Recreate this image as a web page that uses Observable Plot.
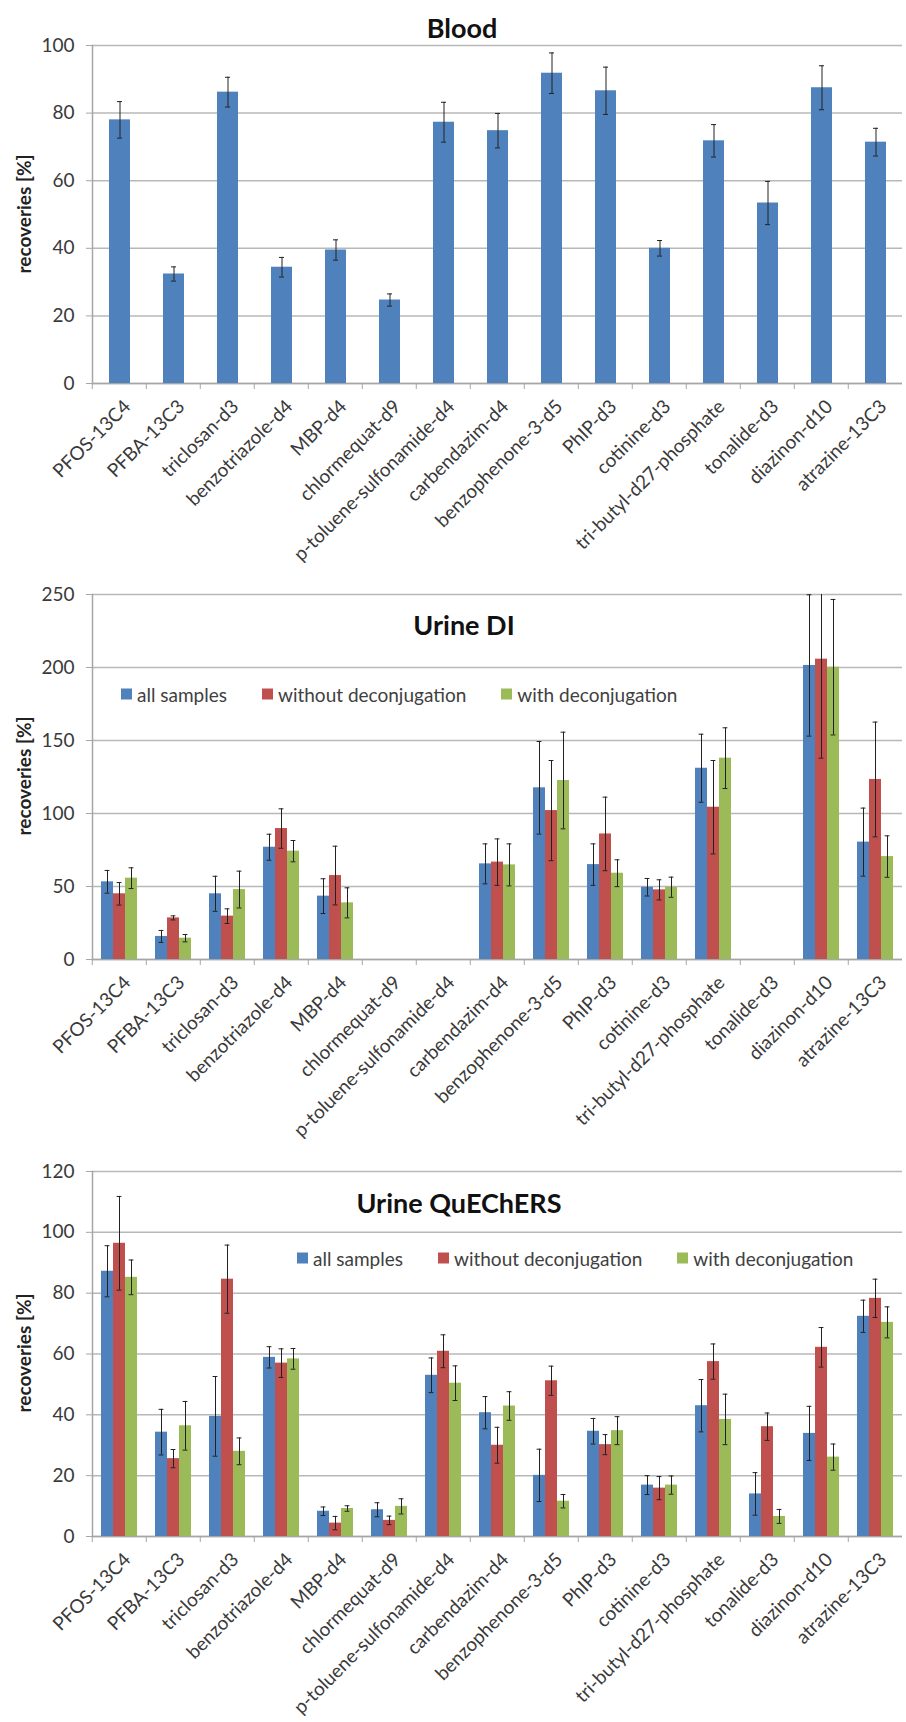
<!DOCTYPE html>
<html><head><meta charset="utf-8">
<script src="https://cdn.jsdelivr.net/npm/d3@7"></script>
<script src="https://cdn.jsdelivr.net/npm/@observablehq/plot@0.6"></script>
<style>
body{margin:0;background:#fff;font-family:Lato,sans-serif;}
.panel{position:relative;width:906px;}
.panel svg{display:block;}
.title{position:absolute;font-weight:bold;font-size:27px;color:#111;transform:translate(-50%,-50%);white-space:nowrap;}
.ylabel{position:absolute;font-weight:bold;font-size:19px;color:#222;transform:translate(-50%,-50%) rotate(-90deg);white-space:nowrap;}
.legend{position:absolute;display:flex;gap:35px;font-size:19px;color:#404040;transform:translateY(-50%);white-space:nowrap;}
.legend .sw{display:inline-block;width:11px;height:11px;margin-right:5px;}
</style></head><body>
<div id="charts"></div>
<script>
const compounds = ["PFOS-13C4","PFBA-13C3","triclosan-d3","benzotriazole-d4","MBP-d4","chlormequat-d9","p-toluene-sulfonamide-d4","carbendazim-d4","benzophenone-3-d5","PhIP-d3","cotinine-d3","tri-butyl-d27-phosphate","tonalide-d3","diazinon-d10","atrazine-13C3"];
const seriesNames = ["all samples","without deconjugation","with deconjugation"];
const seriesColors = ["#4F81BD","#C0504D","#9BBB59"];

const bloodMean = [78.0, 32.4, 86.2, 34.4, 39.5, 24.7, 77.3, 74.8, 91.8, 86.6, 40.0, 71.8, 53.4, 87.5, 71.4];
const bloodErr  = [5.4, 2.1, 4.4, 2.9, 3.0, 1.8, 5.9, 5.1, 6.0, 7.0, 2.3, 4.8, 6.4, 6.5, 4.1];

const diAll        = [53.2, 15.8, 45.0, 76.9, 43.4, null, null, 65.5, 117.6, 65.0, 49.5, 131.0, null, 201.4, 80.4];
const diAllErr     = [7.8, 4.1, 12.0, 8.9, 11.9, null, null, 13.7, 31.7, 14.2, 6.0, 23.3, null, 48.4, 23.3];
const diWithout    = [45.0, 28.5, 29.7, 89.7, 57.5, null, null, 66.7, 102.0, 86.0, 47.7, 104.3, null, 205.7, 123.3];
const diWithoutErr = [7.7, 1.4, 5.0, 13.5, 20.1, null, null, 15.9, 34.3, 25.2, 6.9, 32.0, null, 67.8, 39.3];
const diWith       = [55.7, 14.6, 47.9, 74.2, 38.8, null, null, 64.8, 122.6, 59.1, 49.5, 137.9, null, 200.2, 70.5];
const diWithErr    = [7.1, 2.5, 12.6, 7.3, 10.3, null, null, 14.4, 33.1, 9.2, 6.9, 20.8, null, 46.4, 14.2];

const qAll        = [87.2, 34.3, 39.5, 58.9, 8.3, 8.8, 53.0, 40.7, 20.1, 34.6, 16.9, 43.0, 14.0, 33.9, 72.4];
const qAllErr     = [8.4, 7.5, 13.1, 3.5, 1.4, 2.3, 5.7, 5.3, 8.6, 4.2, 3.1, 8.6, 7.0, 8.9, 5.3];
const qWithout    = [96.4, 25.6, 84.6, 57.0, 4.4, 5.3, 60.9, 30.0, 51.2, 30.2, 15.9, 57.5, 36.1, 62.2, 78.3];
const qWithoutErr = [15.4, 3.0, 11.2, 4.7, 2.2, 1.4, 5.4, 5.9, 4.8, 3.3, 3.8, 5.8, 4.5, 6.5, 6.3];
const qWith       = [85.2, 36.4, 28.0, 58.4, 9.2, 9.9, 50.4, 42.9, 11.6, 34.8, 16.9, 38.5, 6.6, 26.1, 70.4];
const qWithErr    = [5.7, 8.0, 4.4, 3.4, 0.9, 2.5, 5.7, 4.7, 2.2, 4.6, 3.0, 8.3, 2.3, 4.3, 5.1];

const bloodTicks = [0,20,40,60,80,100];
const diTicks = [0,50,100,150,200,250];
const qTicks = [0,20,40,60,80,100,120];

// Missing values are kept as rows with null value so every facet stays present.
function toRows(pairs) {
  const rows = [];
  pairs.forEach(([series, vals, errs]) => {
    compounds.forEach((c, i) => {
      rows.push({compound: c, series, value: vals[i], err: errs[i]});
    });
  });
  return rows;
}
const lo = d => d.value == null ? NaN : d.value - d.err;
const hi = d => d.value == null ? NaN : d.value + d.err;

function chart({rows, series, colors, ticks, height, marginTop, marginBottom, paddingOuter, capInset, clip}) {
  const width = 906, marginLeft = 88, marginRight = 1;
  const step = (width - marginLeft - marginRight) / compounds.length;
  const axisGray = "#a6a6a6";
  return Plot.plot({
    width, height, marginLeft, marginRight, marginTop, marginBottom,
    style: {fontFamily: "Lato, sans-serif", background: "#fff", color: "#333", overflow: "visible"},
    fx: {domain: compounds, padding: 0, label: null},
    x: {domain: series, paddingInner: 0, paddingOuter, axis: null},
    y: {domain: [ticks[0], ticks[ticks.length - 1]], label: null},
    color: {domain: series, range: colors},
    marks: [
      Plot.gridY(ticks, {stroke: "#b8b8b8", strokeOpacity: 1, strokeWidth: 1.5}),
      Plot.ruleY([0], {stroke: axisGray, strokeWidth: 1.5}),
      Plot.frame({anchor: "left", facetAnchor: "left", stroke: axisGray, strokeWidth: 1.5}),
      Plot.axisY(ticks, {anchor: "left", facetAnchor: "left", tickSize: 6, tickPadding: 12, fontSize: 19, stroke: axisGray, fill: "#3a3a3a", label: null}),
      Plot.axisFx({anchor: "bottom", tickSize: 6, dx: -step / 2, fill: "none", stroke: axisGray, label: null}),
      Plot.axisFx({anchor: "bottom", tickSize: 0, tickRotate: -45, tickPadding: 20, dx: 8, fontSize: 19, fill: "#3a3a3a", label: null}),
      Plot.barY(rows, {fx: "compound", x: "series", y: "value", fill: "series"}),
      Plot.ruleX(rows, {fx: "compound", x: "series", y1: lo, y2: hi, stroke: "#222", strokeWidth: 1, clip}),
      Plot.tickY(rows, {fx: "compound", x: "series", y: hi, insetLeft: capInset, insetRight: capInset, stroke: "#222", strokeWidth: 1, clip}),
      Plot.tickY(rows, {fx: "compound", x: "series", y: lo, insetLeft: capInset, insetRight: capInset, stroke: "#222", strokeWidth: 1, clip})
    ]
  });
}

function panel({svg, height, title, titleX, titleY, yLabelY, legendX, legendY, legendItems}) {
  const div = document.createElement("div");
  div.className = "panel";
  div.style.height = height + "px";
  div.appendChild(svg);
  const t = document.createElement("div");
  t.className = "title"; t.textContent = title;
  t.style.left = titleX + "px"; t.style.top = titleY + "px";
  div.appendChild(t);
  const yl = document.createElement("div");
  yl.className = "ylabel"; yl.textContent = "recoveries [%]";
  yl.style.left = "23px"; yl.style.top = yLabelY + "px";
  div.appendChild(yl);
  if (legendItems) {
    const lg = document.createElement("div");
    lg.className = "legend";
    lg.style.left = legendX + "px"; lg.style.top = legendY + "px";
    legendItems.forEach(([name, color]) => {
      const it = document.createElement("div");
      it.style.display = "flex"; it.style.alignItems = "center";
      const sw = document.createElement("span");
      sw.className = "sw"; sw.style.background = color;
      it.appendChild(sw);
      const tx = document.createElement("span");
      tx.textContent = name;
      it.appendChild(tx);
      lg.appendChild(it);
    });
    div.appendChild(lg);
  }
  document.getElementById("charts").appendChild(div);
}

const legendItems = seriesNames.map((s, i) => [s, seriesColors[i]]);

panel({
  svg: chart({rows: toRows([[seriesNames[0], bloodMean, bloodErr]]), series: [seriesNames[0]], colors: [seriesColors[0]],
    ticks: bloodTicks, height: 580, marginTop: 45, marginBottom: 197, paddingOuter: 0.74, capInset: 8, clip: false}),
  height: 580, title: "Blood", titleX: 462, titleY: 27, yLabelY: 214
});

panel({
  svg: chart({rows: toRows([[seriesNames[0], diAll, diAllErr], [seriesNames[1], diWithout, diWithoutErr], [seriesNames[2], diWith, diWithErr]]),
    series: seriesNames, colors: seriesColors, ticks: diTicks, height: 570, marginTop: 14, marginBottom: 191, paddingOuter: 0.71, capInset: 3.6, clip: true}),
  height: 570, title: "Urine DI", titleX: 464, titleY: 44, yLabelY: 196, legendX: 121, legendY: 114, legendItems
});

panel({
  svg: chart({rows: toRows([[seriesNames[0], qAll, qAllErr], [seriesNames[1], qWithout, qWithoutErr], [seriesNames[2], qWith, qWithErr]]),
    series: seriesNames, colors: seriesColors, ticks: qTicks, height: 572, marginTop: 21, marginBottom: 186, paddingOuter: 0.71, capInset: 3.6, clip: false}),
  height: 572, title: "Urine QuEChERS", titleX: 459, titleY: 52, yLabelY: 203, legendX: 297, legendY: 108, legendItems
});
</script>
</body></html>
